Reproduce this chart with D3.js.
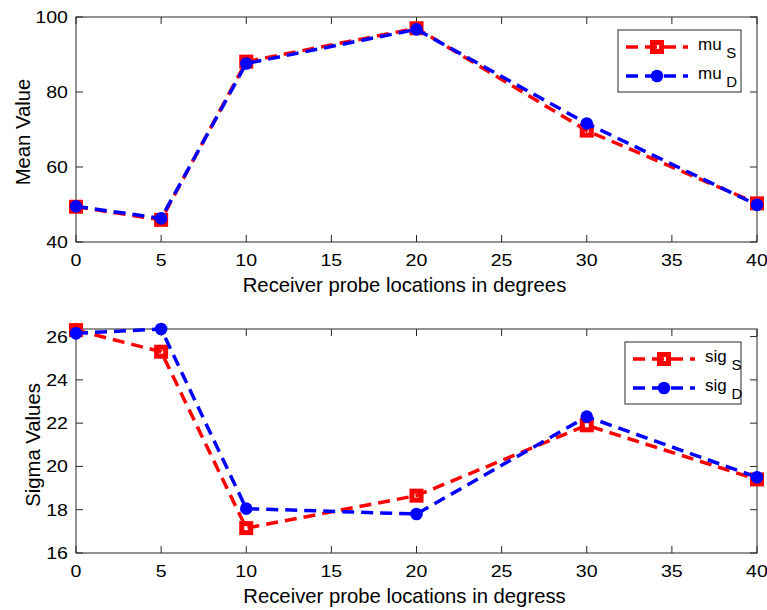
<!DOCTYPE html>
<html>
<head>
<meta charset="utf-8">
<script src="https://cdn.jsdelivr.net/npm/d3@7"></script>
<style>
  body { margin: 0; background: #fff; }
  text { font-family: Arial, "Liberation Sans", sans-serif; fill: #000; }
</style>
</head>
<body>
<div id="chart"></div>
<script>
// receiver probe angles (degrees)
var angles = [0, 5, 10, 20, 30, 40];

// mean values
var muS = [49.4, 45.9, 88.1, 97.0, 69.7, 50.3];
var muD = [49.5, 46.3, 87.6, 96.7, 71.6, 49.9];

// sigma values
var sigS = [26.3, 25.3, 17.15, 18.65, 21.9, 19.4];
var sigD = [26.15, 26.35, 18.05, 17.8, 22.3, 19.5];

var xTicks = [0, 5, 10, 15, 20, 25, 30, 35, 40];
var muTicks = [40, 60, 80, 100];
var sigTicks = [16, 18, 20, 22, 24, 26];

var W = 767, H = 610;

var svg = d3.select('#chart').append('svg')
    .attr('width', W)
    .attr('height', H);

function drawPanel(p) {
    var g = svg.append('g')
        .attr('transform', 'translate(' + p.left + ',' + p.top + ')');

    var x = d3.scaleLinear().domain([0, 40]).range([0, p.width]);
    var y = d3.scaleLinear().domain(p.yDomain).range([p.height, 0]);

    // box
    g.append('rect')
        .attr('width', p.width).attr('height', p.height)
        .attr('fill', 'none').attr('stroke', '#262626').attr('stroke-width', 1);

    // ticks inward on all four sides
    var tl = 7;
    g.selectAll('.xtb').data(xTicks).enter().append('line')
        .attr('x1', d => x(d)).attr('x2', d => x(d))
        .attr('y1', p.height).attr('y2', p.height - tl)
        .attr('stroke', '#262626');
    g.selectAll('.xtt').data(xTicks).enter().append('line')
        .attr('x1', d => x(d)).attr('x2', d => x(d))
        .attr('y1', 0).attr('y2', tl)
        .attr('stroke', '#262626');
    g.selectAll('.ytl').data(p.yTicks).enter().append('line')
        .attr('x1', 0).attr('x2', tl)
        .attr('y1', d => y(d)).attr('y2', d => y(d))
        .attr('stroke', '#262626');
    g.selectAll('.ytr').data(p.yTicks).enter().append('line')
        .attr('x1', p.width).attr('x2', p.width - tl)
        .attr('y1', d => y(d)).attr('y2', d => y(d))
        .attr('stroke', '#262626');

    // tick labels (the originals are a bit wide, so stretch them)
    g.selectAll('.xl').data(xTicks).enter().append('text')
        .attr('transform', d => 'translate(' + x(d) + ',' + (p.height + 23.5) + ') scale(1.2,1)')
        .attr('text-anchor', 'middle')
        .style('font-size', '16.3px')
        .text(d => d);
    g.selectAll('.yl').data(p.yTicks).enter().append('text')
        .attr('transform', d => 'translate(-8,' + (y(d) + 6) + ') scale(1.2,1)')
        .attr('text-anchor', 'end')
        .style('font-size', '16.3px')
        .text(d => d);

    // axis labels
    g.append('text')
        .attr('x', p.width / 2 - 12).attr('y', p.height + 49.5)
        .attr('text-anchor', 'middle')
        .style('font-size', '20.3px')
        .text(p.xLabel);
    g.append('text')
        .attr('transform', 'translate(' + p.yLabX + ',' + (p.height / 2 + p.yLabDy) + ') rotate(-90)')
        .attr('text-anchor', 'middle')
        .style('font-size', '20.3px')
        .text(p.yLabel);

    var line = d3.line()
        .x(function (d, i) { return x(angles[i]); })
        .y(function (d) { return y(d); });

    // red series (open squares)
    g.append('path')
        .attr('d', line(p.s))
        .attr('fill', 'none').attr('stroke', 'red')
        .attr('stroke-width', 3.5).attr('stroke-dasharray', '12,7');
    g.selectAll('.sq').data(p.s).enter().append('rect')
        .attr('x', (d, i) => x(angles[i]) - 4.5)
        .attr('y', d => y(d) - 4.5)
        .attr('width', 9).attr('height', 9)
        .attr('fill', 'none').attr('stroke', 'red').attr('stroke-width', 5);

    // blue series (filled circles)
    g.append('path')
        .attr('d', line(p.d))
        .attr('fill', 'none').attr('stroke', 'blue')
        .attr('stroke-width', 3.5).attr('stroke-dasharray', '12,7');
    g.selectAll('.ci').data(p.d).enter().append('circle')
        .attr('cx', (d, i) => x(angles[i]))
        .attr('cy', d => y(d))
        .attr('r', 6.3)
        .attr('fill', 'blue');

    // legend
    var lg = g.append('g')
        .attr('transform', 'translate(' + p.legX + ',' + p.legY + ')');
    lg.append('rect')
        .attr('width', p.legW).attr('height', 62)
        .attr('fill', '#fff').attr('stroke', '#262626').attr('stroke-width', 1);

    var items = [
        { color: 'red', sub: 'S', shape: 'sq' },
        { color: 'blue', sub: 'D', shape: 'ci' }
    ];
    items.forEach(function (it, k) {
        var cy = 17 + k * 29;
        var lx0 = 8, lx1 = 70, mx = 39;
        lg.append('line')
            .attr('x1', lx0).attr('x2', lx1).attr('y1', cy).attr('y2', cy)
            .attr('stroke', it.color).attr('stroke-width', 3.5)
            .attr('stroke-dasharray', '12,7');
        if (it.shape === 'sq') {
            lg.append('rect')
                .attr('x', mx - 4.5).attr('y', cy - 4.5)
                .attr('width', 9).attr('height', 9)
                .attr('fill', 'none').attr('stroke', it.color).attr('stroke-width', 5);
        } else {
            lg.append('circle').attr('cx', mx).attr('cy', cy).attr('r', 6.3).attr('fill', it.color);
        }
        var t = lg.append('text')
            .attr('x', 80).attr('y', cy + 3)
            .style('font-size', '17px');
        t.append('tspan').text(p.name + ' ');
        t.append('tspan').attr('dy', 8).style('font-size', '15px').text(it.sub);
    });
}

drawPanel({
    left: 76, top: 17, width: 681, height: 225,
    yDomain: [40, 100], yTicks: muTicks,
    s: muS, d: muD, name: 'mu',
    xLabel: 'Receiver probe locations in degrees',
    yLabel: 'Mean Value', yLabX: -46, yLabDy: 2.5,
    legX: 542, legY: 13, legW: 123
});

drawPanel({
    left: 76, top: 329, width: 681, height: 224,
    yDomain: [16, 26.35], yTicks: sigTicks,
    s: sigS, d: sigD, name: 'sig',
    xLabel: 'Receiver probe locations in degress',
    yLabel: 'Sigma Values', yLabX: -36.5, yLabDy: 4,
    legX: 549, legY: 13, legW: 116
});
</script>
</body>
</html>
